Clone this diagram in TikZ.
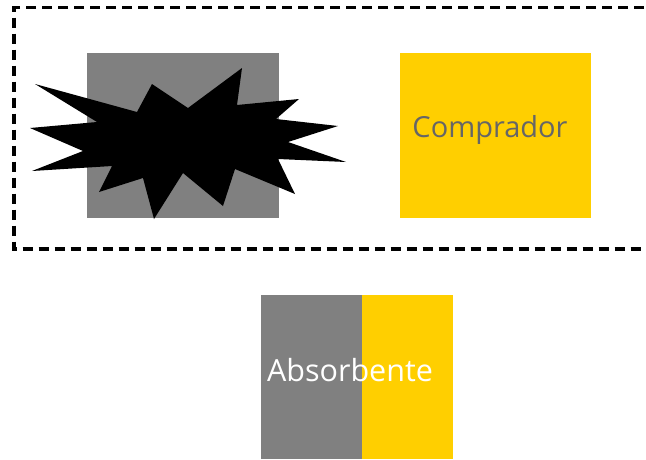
\documentclass[tikz,border=0pt]{standalone}
\usepackage{fontspec}
\setmainfont{Open Sans}
\definecolor{cinza}{HTML}{808080}
\definecolor{amarelo}{HTML}{FFCF00}
\definecolor{texto}{HTML}{666666}
\tikzset{
  bloco/.style={inner sep=0pt, outer sep=0pt},
  rotulo/.style={font=\fontsize{29}{30}\selectfont, inner sep=0pt}
}
\begin{document}
\begin{tikzpicture}[x=1pt,y=-1pt]
    \useasboundingbox (0,0) rectangle (646,459);

    % Contorno tracejado
    \draw[line width=3.3pt, dash pattern=on 10pt off 6pt] (660,7.5) -- (14,7.5) -- (14,249) -- (660,249);

    % Bloco cinza com explosao
    \fill[cinza] (87,53) rectangle (279,218);
    \fill[black] (35,84) -- (137,112) -- (152,84) -- (188,108) -- (242,68)
      -- (237,105) -- (299,99) -- (276,119) -- (338,126) -- (288,142)
      -- (346,162) -- (278,159) -- (295,194) -- (235,169) -- (223,206)
      -- (183,173) -- (154,219) -- (143,178) -- (99,192) -- (112,166)
      -- (32,171) -- (83,151) -- (30,128) -- (97,122) -- cycle;

    % Comprador - Amarelo
    \fill[amarelo] (400,53) rectangle (591,218);
    \node[rotulo, texto, anchor=base] (comprador) at (490,137) {Comprador};

    % Absorbente - Cinza/Amarelo
    \fill[cinza] (261,295) rectangle (362,459);
    \fill[amarelo] (362,295) rectangle (453,459);
    \node[rotulo, white, anchor=base, font=\fontsize{30.5}{31}\selectfont] (absorbente) at (350,381) {Absorbente};
  \end{tikzpicture}
\end{document}
